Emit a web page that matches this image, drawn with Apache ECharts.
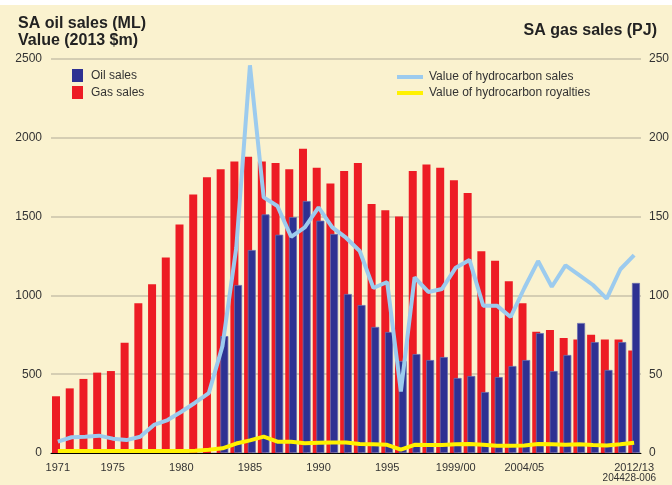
<!DOCTYPE html>
<html>
<head>
<meta charset="utf-8">
<script src="https://cdn.jsdelivr.net/npm/echarts@6/dist/echarts.min.js"></script>
<style>
  html, body { margin: 0; padding: 0; background: #fff; }
  #chart { width: 672px; height: 485px; }
</style>
</head>
<body>
<div id="chart"></div>
<script>
// categories: calendar years to 1998, then financial years
const years = ['1971', '1972', '1973', '1974', '1975', '1976', '1977', '1978', '1979', '1980',
  '1981', '1982', '1983', '1984', '1985', '1986', '1987', '1988', '1989', '1990',
  '1991', '1992', '1993', '1994', '1995', '1996', '1997', '1998', '1998/99', '1999/00',
  '2000/01', '2001/02', '2002/03', '2003/04', '2004/05', '2005/06', '2006/07', '2007/08',
  '2008/09', '2009/10', '2010/11', '2011/12', '2012/13']
const labelledYears = ['1971', '1975', '1980', '1985', '1990', '1995', '1999/00', '2004/05', '2012/13']

// SA gas sales (PJ) - right axis
const gasSales = [36, 41, 47, 51, 52, 70, 95, 107, 124, 145,
  164, 175, 180, 185, 188, 185, 184, 180, 193, 181,
  171, 179, 184, 158, 154, 150, 179, 183, 181, 173,
  165, 128, 122, 109, 95, 77, 78, 73, 72, 75,
  72, 72, 65]

// SA oil sales (ML) - left axis
const oilSales = [null, null, null, null, null, null, null, null, null, null,
  null, null, 742, 1066, 1288, 1514, 1385, 1497, 1599, 1474,
  1390, 1009, 939, 800, 768, 584, 628, 590, 609, 476,
  489, 387, 482, 552, 590, 761, 520, 622, 825, 704,
  527, 704, 1079]

// value of hydrocarbon sales (2013 $m)
const salesValue = [72, 100, 103, 110, 91, 82, 103, 178, 209, 262,
  319, 380, 680, 1300, 2460, 1622, 1567, 1372, 1432, 1559,
  1432, 1366, 1282, 1047, 1085, 390, 1115, 1022, 1041, 1176,
  1225, 935, 935, 863, 1047, 1218, 1055, 1191, 1129, 1066,
  979, 1166, 1256]

// value of hydrocarbon royalties (2013 $m)
const royaltyValue = [13, 13, 13, 13, 13, 13, 13, 13, 13, 13,
  15, 20, 30, 60, 80, 104, 72, 72, 62, 65,
  66, 66, 57, 55, 52, 22, 52, 50, 50, 55,
  57, 52, 46, 46, 48, 57, 55, 52, 55, 50,
  48, 55, 65]

const font = 'Liberation Sans, Arial, sans-serif'
const textColor = '#333'

const chart = echarts.init(document.getElementById('chart'))

const option = {
  backgroundColor: '#faf2cf',
  animation: false,
  textStyle: { fontFamily: font },
  graphic: [
    // thin white strip along the top edge
    { type: 'rect', left: 0, top: 0, shape: { width: 672, height: 5 }, style: { fill: '#fff' } }
  ],
  title: [
    {
      text: 'SA oil sales (ML)\nValue (2013 $m)',
      left: 18,
      top: 15,
      padding: 0,
      textStyle: { fontFamily: font, fontSize: 16, fontWeight: 'bold', color: '#222', lineHeight: 17 }
    },
    {
      text: 'SA gas sales (PJ)',
      right: 15,
      top: 23,
      padding: 0,
      textStyle: { fontFamily: font, fontSize: 16, fontWeight: 'bold', color: '#222' }
    },
    {
      text: '204428-006',
      right: 16,
      bottom: 2,
      padding: 0,
      textStyle: { fontFamily: font, fontSize: 10, fontWeight: 'normal', color: textColor }
    }
  ],
  legend: [
    {
      data: ['Oil sales', 'Gas sales'],
      orient: 'vertical',
      left: 72,
      top: 69,
      padding: 0,
      itemWidth: 11,
      itemHeight: 13,
      itemGap: 4,
      icon: 'rect',
      itemStyle: { borderWidth: 0 },
      textStyle: { fontFamily: font, fontSize: 12, color: textColor, padding: [0, 0, 0, 3] }
    },
    {
      data: ['Value of hydrocarbon sales', 'Value of hydrocarbon royalties'],
      orient: 'vertical',
      left: 397,
      top: 70,
      padding: 0,
      itemWidth: 26,
      itemHeight: 4,
      itemGap: 2,
      icon: 'rect',
      textStyle: { fontFamily: font, fontSize: 12, color: textColor, lineHeight: 14, padding: [0, 0, 0, 1] }
    }
  ],
  grid: {
    left: 51,
    right: 30,
    top: 59,
    bottom: 32
  },
  xAxis: {
    type: 'category',
    data: years,
    boundaryGap: true,
    axisLine: { lineStyle: { color: '#000', width: 1 } },
    axisTick: { interval: 0, length: 4, lineStyle: { color: '#000' } },
    axisLabel: {
      interval: (index, value) => labelledYears.includes(value),
      fontSize: 11,
      color: textColor,
      margin: 9
    }
  },
  yAxis: [
    {
      type: 'value',
      min: 0,
      max: 2500,
      interval: 500,
      axisLine: { show: false },
      axisTick: { show: false },
      axisLabel: { fontSize: 12, color: textColor, margin: 9, formatter: (v) => String(v) },
      splitLine: { lineStyle: { color: '#c9c2aa', width: 1.5 } }
    },
    {
      type: 'value',
      min: 0,
      max: 250,
      interval: 50,
      position: 'right',
      axisLine: { show: false },
      axisTick: { show: false },
      axisLabel: { fontSize: 12, color: textColor, margin: 8, formatter: (v) => String(v) },
      splitLine: { show: false }
    }
  ],
  series: [
    {
      name: 'Gas sales',
      type: 'bar',
      yAxisIndex: 1,
      data: gasSales,
      barWidth: 8,
      barGap: '-54%',
      itemStyle: { color: '#ed1c24' }
    },
    {
      name: 'Oil sales',
      type: 'bar',
      yAxisIndex: 0,
      data: oilSales,
      barWidth: 8,
      barGap: '-54%',
      itemStyle: { color: '#2e3192', borderColor: '#6a6eae', borderWidth: 0.8 }
    },
    {
      name: 'Value of hydrocarbon sales',
      type: 'line',
      yAxisIndex: 0,
      data: salesValue,
      symbol: 'none',
      lineStyle: { color: '#9ccbee', width: 4 },
      itemStyle: { color: '#9ccbee' },
      z: 5
    },
    {
      name: 'Value of hydrocarbon royalties',
      type: 'line',
      yAxisIndex: 0,
      data: royaltyValue,
      symbol: 'none',
      lineStyle: { color: '#fff200', width: 4 },
      itemStyle: { color: '#fff200' },
      z: 6
    }
  ]
}

chart.setOption(option)
</script>
</body>
</html>
